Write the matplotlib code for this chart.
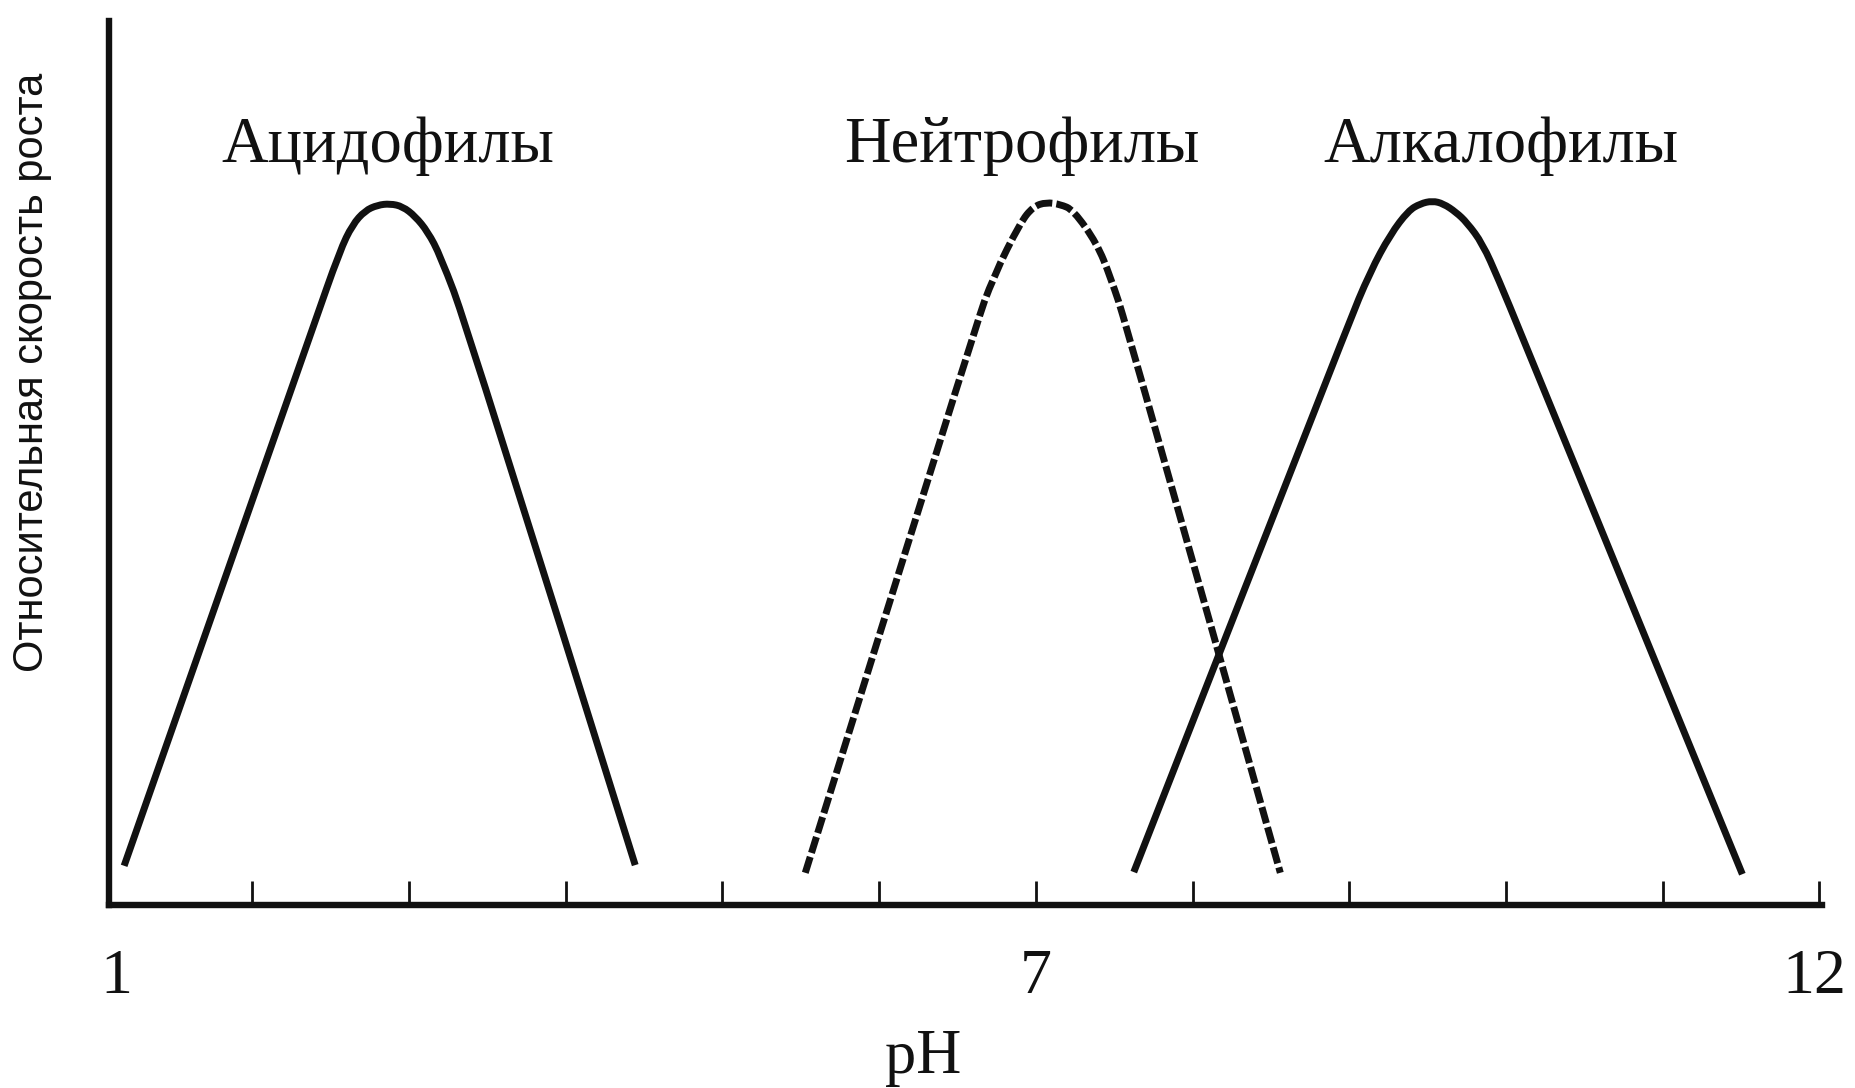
import matplotlib
matplotlib.use('Agg')
import matplotlib.pyplot as plt
from matplotlib.path import Path
from matplotlib.patches import PathPatch

# точки кривых (pH, относительная скорость роста)
acido_ph = [1.183, 2.389, 2.560, 2.640, 2.720, 2.800, 2.880, 2.960, 3.040, 3.120, 3.200, 3.372, 4.444]
acido_v = [0.056, 0.826, 0.935, 0.972, 0.992, 1.000, 1.002, 0.998, 0.984, 0.962, 0.928, 0.826, 0.057]

neutro_ph = [5.529, 6.613, 6.730, 6.901, 6.984, 7.067, 7.156, 7.239, 7.390, 7.475, 7.582, 8.560]
neutro_v = [0.046, 0.826, 0.898, 0.975, 0.998, 1.004, 1.001, 0.993, 0.945, 0.898, 0.826, 0.046]

alkalo_ph = [7.625, 8.986, 9.134, 9.262, 9.377, 9.453, 9.530, 9.600, 9.680, 9.751, 9.850, 9.950, 10.100, 11.508]
alkalo_v = [0.047, 0.826, 0.905, 0.958, 0.992, 1.002, 1.006, 1.002, 0.990, 0.975, 0.945, 0.895, 0.814, 0.044]

group_names = ['Ацидофилы', 'Нейтрофилы', 'Алкалофилы']
group_x = [2.867, 6.910, 9.968]

tick_pos = [2, 3, 4, 5, 6, 7, 8, 9, 10, 11, 12]
label_pos = [1.136, 7.0, 11.97]
label_txt = ['1', '7', '12']

ink = '#111111'
serif = ['Liberation Serif', 'DejaVu Serif']


def smooth_path(xs, ys):
    # сглаживание вершин квадратичными кривыми (концы остаются на месте)
    pts = list(zip(xs, ys))
    verts = [pts[0]]
    codes = [Path.MOVETO]
    for i in range(1, len(pts) - 1):
        nxt = pts[i + 1]
        if i < len(pts) - 2:
            end = ((pts[i][0] + nxt[0]) / 2, (pts[i][1] + nxt[1]) / 2)
        else:
            end = nxt
        verts += [pts[i], end]
        codes += [Path.CURVE3, Path.CURVE3]
    return Path(verts, codes)


fig = plt.figure(figsize=(18.55, 10.88), dpi=100)
ax = fig.add_axes([0.0588, 0.1682, 0.9822 - 0.0588, 0.9807 - 0.1682])

lw = 5.0
for xs, ys, ls in [(acido_ph, acido_v, '-'),
                   (neutro_ph, neutro_v, (0, (2.4, 0.6))),
                   (alkalo_ph, alkalo_v, '-')]:
    ax.add_patch(PathPatch(smooth_path(xs, ys), fill=False, edgecolor=ink,
                           lw=lw, linestyle=ls, capstyle='butt', joinstyle='round'))

for name, x in zip(group_names, group_x):
    ax.text(x, 1.062, name, ha='center', va='baseline', fontsize=46.5,
            family=serif, color=ink)

ax.set_xlim(1.087, 12.016)
ax.set_ylim(0, 1.263)

for s in ['top', 'right']:
    ax.spines[s].set_visible(False)
for s in ['left', 'bottom']:
    ax.spines[s].set_linewidth(4.6)
    ax.spines[s].set_color(ink)

ax.set_xticks(tick_pos)
ax.set_xticklabels([])
ax.tick_params(axis='x', direction='in', length=17, width=2.0, color=ink)
ax.set_yticks([])

for x, t in zip(label_pos, label_txt):
    ax.text(x, -0.0995, t, transform=ax.get_xaxis_transform(), ha='center',
            va='baseline', fontsize=46, family=serif, color=ink)

fig.text(0.4978, 1 - 1073 / 1088, 'pH', ha='center', va='baseline', fontsize=45,
         family=serif, color=ink)
fig.text(0.0172, 0.658, 'Относительная скорость роста', rotation=90,
         ha='center', va='center', fontsize=30,
         family=['Liberation Sans', 'DejaVu Sans'], color=ink)

fig.savefig('out.png', dpi=100, facecolor='white')
